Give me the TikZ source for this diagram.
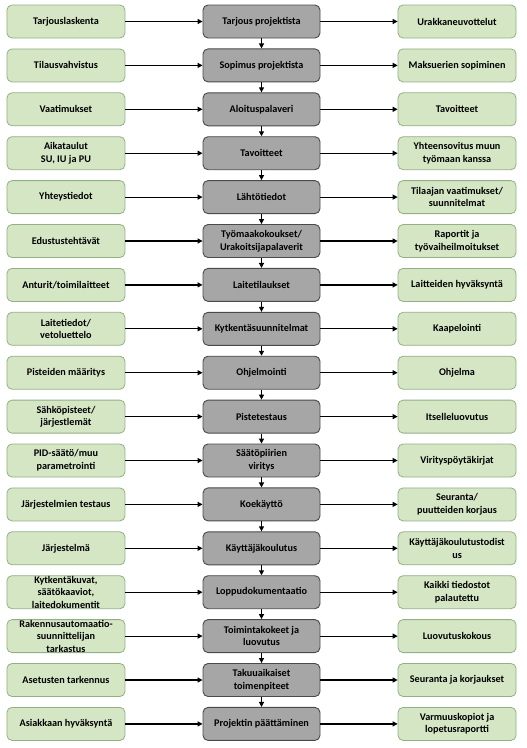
\documentclass[tikz,border=0pt]{standalone}
\usepackage{fontspec}
\setmainfont{Carlito}
\usepackage{xcolor}
\usetikzlibrary{positioning,arrows.meta}
\definecolor{sidefill}{HTML}{D5E6C5}
\definecolor{sideline}{HTML}{93B084}
\definecolor{phasefill}{HTML}{A6A6A6}
\definecolor{phaseline}{HTML}{4A4A4A}

\begin{document}
\begin{tikzpicture}[>={Triangle[length=5pt,width=5pt]}, every node/.style={font=\bfseries\fontsize{10.2}{12.6}\selectfont, align=center},
  sidebox/.style={draw=sideline, line width=0.8pt, rounded corners=5pt, fill=sidefill,
    minimum width=118pt, minimum height=33pt, inner ysep=-2pt},
  phasebox/.style={draw=phaseline, line width=0.9pt, rounded corners=5pt, fill=phasefill,
    minimum width=117pt, minimum height=33pt, inner ysep=-2pt}]
  \def\vgap{10pt}
  \def\hgap{77.2pt}
  \useasboundingbox (0,0) rectangle (527pt,-748pt);

  \node[phasebox] (m1) at (261.5pt,-21.5pt) {Tarjous projektista};
  \node[phasebox, below=\vgap of m1] (m2) {Sopimus projektista};
  \node[phasebox, below=\vgap of m2] (m3) {Aloituspalaveri};
  \node[phasebox, below=\vgap of m3] (m4) {Tavoitteet};
  \node[phasebox, below=\vgap of m4] (m5) {Lähtötiedot};
  \node[phasebox, below=\vgap of m5] (m6) {Työmaakokoukset/\\Urakoitsijapalaverit};
  \node[phasebox, below=\vgap of m6] (m7) {Laitetilaukset};
  \node[phasebox, below=\vgap of m7] (m8) {Kytkentäsuunnitelmat};
  \node[phasebox, below=\vgap of m8] (m9) {Ohjelmointi};
  \node[phasebox, below=\vgap of m9] (m10) {Pistetestaus};
  \node[phasebox, below=\vgap of m10] (m11) {Säätöpiirien\\viritys};
  \node[phasebox, below=\vgap of m11] (m12) {Koekäyttö};
  \node[phasebox, below=\vgap of m12] (m13) {Käyttäjäkoulutus};
  \node[phasebox, below=\vgap of m13] (m14) {Loppudokumentaatio};
  \node[phasebox, below=\vgap of m14] (m15) {Toimintakokeet ja\\luovutus};
  \node[phasebox, below=\vgap of m15] (m16) {Takuuaikaiset\\toimenpiteet};
  \node[phasebox, below=\vgap of m16] (m17) {Projektin päättäminen};

  \node[sidebox, left=\hgap of m1] (in1) {Tarjouslaskenta};
  \node[sidebox, left=\hgap of m2] (in2) {Tilausvahvistus};
  \node[sidebox, left=\hgap of m3] (in3) {Vaatimukset};
  \node[sidebox, left=\hgap of m4] (in4) {Aikataulut\\SU, IU ja PU};
  \node[sidebox, left=\hgap of m5] (in5) {Yhteystiedot};
  \node[sidebox, left=\hgap of m6] (in6) {Edustustehtävät};
  \node[sidebox, left=\hgap of m7] (in7) {Anturit/toimilaitteet};
  \node[sidebox, left=\hgap of m8] (in8) {Laitetiedot/\\vetoluettelo};
  \node[sidebox, left=\hgap of m9] (in9) {Pisteiden määritys};
  \node[sidebox, left=\hgap of m10] (in10) {Sähköpisteet/\\järjestlemät};
  \node[sidebox, left=\hgap of m11] (in11) {PID-säätö/muu\\parametrointi};
  \node[sidebox, left=\hgap of m12] (in12) {Järjestelmien testaus};
  \node[sidebox, left=\hgap of m13] (in13) {Järjestelmä};
  \node[sidebox, left=\hgap of m14] (in14) {Kytkentäkuvat,\\säätökaaviot,\\laitedokumentit};
  \node[sidebox, left=\hgap of m15] (in15) {Rakennusautomaatio-\\suunnittelijan\\tarkastus};
  \node[sidebox, left=\hgap of m16] (in16) {Asetusten tarkennus};
  \node[sidebox, left=\hgap of m17] (in17) {Asiakkaan hyväksyntä};

  \node[sidebox, right=\hgap of m1] (out1) {Urakkaneuvottelut};
  \node[sidebox, right=\hgap of m2] (out2) {Maksuerien sopiminen};
  \node[sidebox, right=\hgap of m3] (out3) {Tavoitteet};
  \node[sidebox, right=\hgap of m4] (out4) {Yhteensovitus muun\\työmaan kanssa};
  \node[sidebox, right=\hgap of m5] (out5) {Tilaajan vaatimukset/\\suunnitelmat};
  \node[sidebox, right=\hgap of m6] (out6) {Raportit ja\\työvaiheilmoitukset};
  \node[sidebox, right=\hgap of m7] (out7) {Laitteiden hyväksyntä};
  \node[sidebox, right=\hgap of m8] (out8) {Kaapelointi};
  \node[sidebox, right=\hgap of m9] (out9) {Ohjelma};
  \node[sidebox, right=\hgap of m10] (out10) {Itselleluovutus};
  \node[sidebox, right=\hgap of m11] (out11) {Virityspöytäkirjat};
  \node[sidebox, right=\hgap of m12] (out12) {Seuranta/\\puutteiden korjaus};
  \node[sidebox, right=\hgap of m13] (out13) {Käyttäjäkoulutustodist\\us};
  \node[sidebox, right=\hgap of m14] (out14) {Kaikki tiedostot\\palautettu};
  \node[sidebox, right=\hgap of m15] (out15) {Luovutuskokous};
  \node[sidebox, right=\hgap of m16] (out16) {Seuranta ja korjaukset};
  \node[sidebox, right=\hgap of m17] (out17) {Varmuuskopiot ja\\lopetusraportti};

  \draw[->, line width=1.2pt] (in1) -- (m1);   \draw[->, line width=1.2pt] (m1) -- (out1);   \draw[->, line width=1.2pt] (m1) -- (m2);
  \draw[->, line width=1.2pt] (in2) -- (m2);   \draw[->, line width=1.2pt] (m2) -- (out2);   \draw[->, line width=1.2pt] (m2) -- (m3);
  \draw[->, line width=1.2pt] (in3) -- (m3);   \draw[->, line width=1.2pt] (m3) -- (out3);   \draw[->, line width=1.2pt] (m3) -- (m4);
  \draw[->, line width=1.2pt] (in4) -- (m4);   \draw[->, line width=1.2pt] (m4) -- (out4);   \draw[->, line width=1.2pt] (m4) -- (m5);
  \draw[->, line width=1.2pt] (in5) -- (m5);   \draw[->, line width=1.2pt] (m5) -- (out5);   \draw[->, line width=1.2pt] (m5) -- (m6);
  \draw[->, line width=1.2pt] (in6) -- (m6);   \draw[->, line width=1.2pt] (m6) -- (out6);   \draw[->, line width=1.2pt] (m6) -- (m7);
  \draw[->, line width=1.2pt] (in7) -- (m7);   \draw[->, line width=1.2pt] (m7) -- (out7);   \draw[->, line width=1.2pt] (m7) -- (m8);
  \draw[->, line width=1.2pt] (in8) -- (m8);   \draw[->, line width=1.2pt] (m8) -- (out8);   \draw[->, line width=1.2pt] (m8) -- (m9);
  \draw[->, line width=1.2pt] (in9) -- (m9);   \draw[->, line width=1.2pt] (m9) -- (out9);   \draw[->, line width=1.2pt] (m9) -- (m10);
  \draw[->, line width=1.2pt] (in10) -- (m10); \draw[->, line width=1.2pt] (m10) -- (out10); \draw[->, line width=1.2pt] (m10) -- (m11);
  \draw[->, line width=1.2pt] (in11) -- (m11); \draw[->, line width=1.2pt] (m11) -- (out11); \draw[->, line width=1.2pt] (m11) -- (m12);
  \draw[->, line width=1.2pt] (in12) -- (m12); \draw[->, line width=1.2pt] (m12) -- (out12); \draw[->, line width=1.2pt] (m12) -- (m13);
  \draw[->, line width=1.2pt] (in13) -- (m13); \draw[->, line width=1.2pt] (m13) -- (out13); \draw[->, line width=1.2pt] (m13) -- (m14);
  \draw[->, line width=1.2pt] (in14) -- (m14); \draw[->, line width=1.2pt] (m14) -- (out14); \draw[->, line width=1.2pt] (m14) -- (m15);
  \draw[->, line width=1.2pt] (in15) -- (m15); \draw[->, line width=1.2pt] (m15) -- (out15); \draw[->, line width=1.2pt] (m15) -- (m16);
  \draw[->, line width=1.2pt] (in16) -- (m16); \draw[->, line width=1.2pt] (m16) -- (out16); \draw[->, line width=1.2pt] (m16) -- (m17);
  \draw[->, line width=1.2pt] (in17) -- (m17); \draw[->, line width=1.2pt] (m17) -- (out17);
\end{tikzpicture}
\end{document}
